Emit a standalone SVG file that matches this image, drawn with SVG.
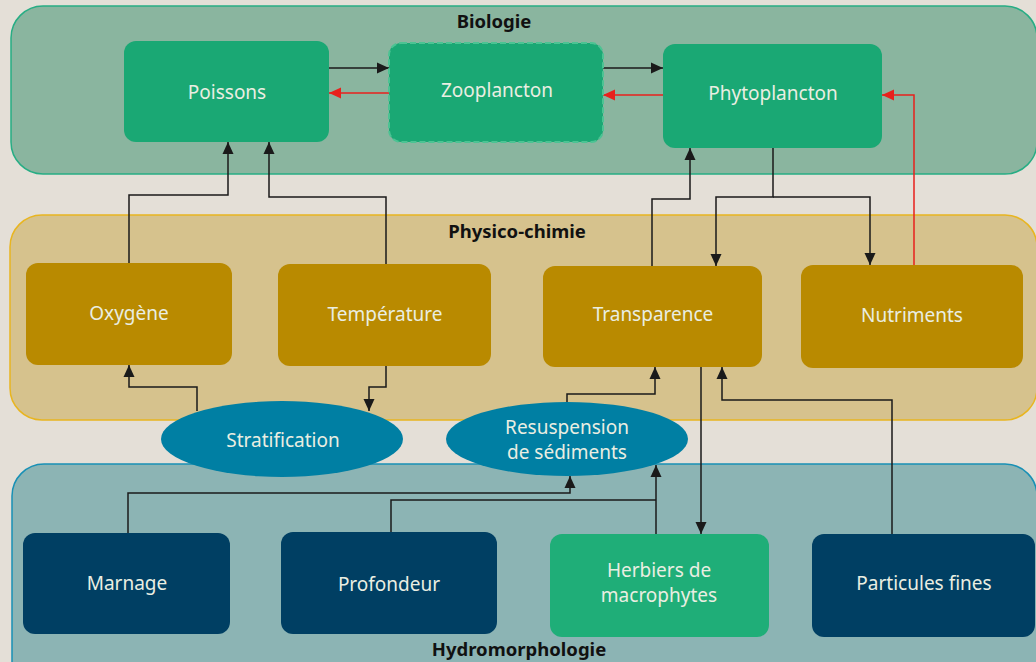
<svg xmlns="http://www.w3.org/2000/svg" width="1036" height="662" viewBox="0 0 1036 662">
<style>
.panel-bio{fill:#8ab59f;stroke:#27ad84;stroke-width:1.5}
.panel-phy{fill:#d6c28d;stroke:#e8b520;stroke-width:1.5}
.panel-hyd{fill:#8cb4b4;stroke:#1890b5;stroke-width:1.5}
.title{font-family:"Noto Sans","Open Sans",sans-serif;font-weight:bold;font-size:18.5px;fill:#111;text-anchor:middle}
.lbl{font-family:"Noto Sans","Open Sans",sans-serif;font-size:19px;fill:#eaeee2;text-anchor:middle;dominant-baseline:central}
.green{fill:#1aa874}
.gold{fill:#b98a00}
.navy{fill:#003f63}
.ell{fill:#007fa3}
.c{fill:none;stroke:#1a1a1a;stroke-width:1.5}
.r{fill:none;stroke:#e8211c;stroke-width:1.5}
</style>
<defs>
<marker id="ab" markerUnits="userSpaceOnUse" markerWidth="12" markerHeight="12" refX="12" refY="6" orient="auto"><path d="M0,0.5 L12,6 L0,11.5 z" fill="#1a1a1a"/></marker>
<marker id="ar" markerUnits="userSpaceOnUse" markerWidth="12" markerHeight="12" refX="12" refY="6" orient="auto"><path d="M0,0.5 L12,6 L0,11.5 z" fill="#e8211c"/></marker>
</defs>
<rect width="1036" height="662" fill="#e4dfd7"/>
<g id="panels">
<rect class="panel-bio" x="11" y="6" width="1026" height="168" rx="32"/>
<rect class="panel-phy" x="10" y="215" width="1027" height="205" rx="32"/>
<rect class="panel-hyd" x="12" y="464" width="1025" height="230" rx="32"/>
<text class="title" x="494" y="28">Biologie</text>
<text class="title" x="517" y="238">Physico-chimie</text>
<text class="title" x="519" y="656">Hydromorphologie</text>
</g>
<g id="connectors">
<path class="c" d="M329,68 H389" marker-end="url(#ab)"/>
<path class="r" d="M389,93 H329" marker-end="url(#ar)"/>
<path class="c" d="M603,68 H663" marker-end="url(#ab)"/>
<path class="r" d="M663,95 H603" marker-end="url(#ar)"/>
<path class="r" d="M914,265 V95 H882" marker-end="url(#ar)"/>
<path class="c" d="M129,263 V195 H228 V142" marker-end="url(#ab)"/>
<path class="c" d="M386,264 V197 H269 V142" marker-end="url(#ab)"/>
<path class="c" d="M652,266 V199 H690 V148" marker-end="url(#ab)"/>
<path class="c" d="M773,148 V197 H716 V266" marker-end="url(#ab)"/>
<path class="c" d="M773,197 H870 V265" marker-end="url(#ab)"/>
<path class="c" d="M197,411 V387 H129 V365" marker-end="url(#ab)"/>
<path class="c" d="M386,366 V387 H369 V411" marker-end="url(#ab)"/>
<path class="c" d="M567,402 V394 H655 V367" marker-end="url(#ab)"/>
<path class="c" d="M701,367 V534" marker-end="url(#ab)"/>
<path class="c" d="M892,534 V400 H722 V367" marker-end="url(#ab)"/>
<path class="c" d="M128,533 V493 H570 V476" marker-end="url(#ab)"/>
<path class="c" d="M391,532 V500 H656"/>
<path class="c" d="M656,534 V465" marker-end="url(#ab)"/>
</g>
<g id="poissons"><rect class="green" x="124" y="41" width="205" height="101" rx="12"/><text class="lbl" x="227" y="92">Poissons</text></g>
<g id="zooplancton"><rect class="green" x="389" y="43" width="214" height="99" rx="12" stroke="#4cc393" stroke-width="2" stroke-dasharray="6 3"/><text class="lbl" x="497" y="90">Zooplancton</text></g>
<g id="phytoplancton"><rect class="green" x="663" y="44" width="219" height="104" rx="12"/><text class="lbl" x="773" y="93">Phytoplancton</text></g>
<g id="oxygene"><rect class="gold" x="26" y="263" width="206" height="102" rx="12"/><text class="lbl" x="129" y="313">Oxygène</text></g>
<g id="temperature"><rect class="gold" x="278" y="264" width="213" height="102" rx="12"/><text class="lbl" x="385" y="314">Température</text></g>
<g id="transparence"><rect class="gold" x="543" y="266" width="219" height="101" rx="12"/><text class="lbl" x="653" y="314">Transparence</text></g>
<g id="nutriments"><rect class="gold" x="801" y="265" width="222" height="103" rx="12"/><text class="lbl" x="912" y="315">Nutriments</text></g>
<g id="stratification"><ellipse class="ell" cx="282" cy="439" rx="121" ry="38"/><text class="lbl" x="283" y="440">Stratification</text></g>
<g id="resuspension"><ellipse class="ell" cx="567" cy="439" rx="121" ry="37"/><text class="lbl" x="567" y="427">Resuspension</text><text class="lbl" x="567" y="452">de sédiments</text></g>
<g id="marnage"><rect class="navy" x="23" y="533" width="207" height="101" rx="12"/><text class="lbl" x="127" y="583">Marnage</text></g>
<g id="profondeur"><rect class="navy" x="281" y="532" width="216" height="102" rx="12"/><text class="lbl" x="389" y="584">Profondeur</text></g>
<g id="herbiers"><rect x="550" y="534" width="219" height="103" rx="12" fill="#1fae78"/><text class="lbl" x="659" y="570">Herbiers de</text><text class="lbl" x="659" y="595">macrophytes</text></g>
<g id="particules"><rect class="navy" x="812" y="534" width="223" height="103" rx="12"/><text class="lbl" x="924" y="583">Particules fines</text></g>
</svg>
